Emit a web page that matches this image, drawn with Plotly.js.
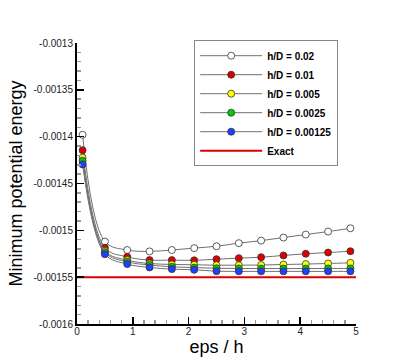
<!DOCTYPE html>
<html><head><meta charset="utf-8">
<script src="https://cdn.plot.ly/plotly-3.0.1.min.js"></script>
<style>html,body{margin:0;padding:0;background:#fff}#chart{width:407px;height:361px}</style>
</head><body><div id="chart"></div>
<script>
const epsOverH = [0.1,0.5,0.9,1.3,1.7,2.1,2.5,2.9,3.3,3.7,4.1,4.5,4.9];
const seriesNames = ['h/D = 0.02','h/D = 0.01','h/D = 0.005','h/D = 0.0025','h/D = 0.00125'];
const hD002 = [-0.001398,-0.001512,-0.001521,-0.0015225,-0.001521,-0.001519,-0.001517,-0.0015137,-0.001511,-0.0015077,-0.0015045,-0.0015013,-0.0014978];
const hD001 = [-0.0014144,-0.0015187,-0.0015283,-0.0015318,-0.0015318,-0.001532,-0.0015308,-0.0015297,-0.0015287,-0.0015268,-0.001525,-0.0015237,-0.0015223];
const hD0005 = [-0.0014225,-0.0015219,-0.0015318,-0.0015354,-0.0015364,-0.0015368,-0.0015372,-0.0015372,-0.001537,-0.0015365,-0.001536,-0.0015354,-0.0015347];
const hD00025 = [-0.0014257,-0.0015233,-0.0015336,-0.001537,-0.0015389,-0.0015398,-0.0015405,-0.0015407,-0.0015408,-0.0015408,-0.0015408,-0.0015407,-0.0015407];
const hD000125 = [-0.0014296,-0.0015255,-0.001536,-0.0015396,-0.0015414,-0.0015421,-0.0015436,-0.0015438,-0.0015438,-0.0015438,-0.0015438,-0.0015438,-0.0015438];
const exactX = [0,5];
const exactY = [-0.00155,-0.00155];
const yTickVals = [-0.0016,-0.00155,-0.0015,-0.00145,-0.0014,-0.00135,-0.0013];
const yTickText = ['-0.0016','-0.00155','-0.0015','-0.00145','-0.0014','-0.00135','-0.0013'];
const xTickVals = [0,1,2,3,4,5];
const xTickText = ['0','1','2','3','4','5'];

const allY = [hD002,hD001,hD0005,hD00025,hD000125];
const fills = ['#ffffff','#dd0000','#ffff00','#00cc00','#2040ff'];
const traces = allY.map((ys,i)=>({
  x: epsOverH, y: ys, name: seriesNames[i], type:'scatter', mode:'lines+markers',
  line:{color:'#707070', width:1, shape:'spline', smoothing:1},
  marker:{size:7, color:fills[i], line:{color:'#333', width:0.8}}
}));
traces.push({x:exactX, y:exactY, name:'Exact', type:'scatter', mode:'lines',
  line:{color:'#dd0000', width:2}});

const font = {family:'Arial, "Liberation Sans", sans-serif', color:'#000'};
const layout = {
  width:407, height:361,
  margin:{l:77, r:51, t:43, b:37},
  paper_bgcolor:'#fff', plot_bgcolor:'#fff',
  font: Object.assign({size:10}, font),
  showlegend:true,
  legend:{x:0.42, y:1.01, xanchor:'left', yanchor:'top', bgcolor:'#fff',
    bordercolor:'#888', borderwidth:1, tracegroupgap:0, itemwidth:62,
    font:{family:'Arial, "Liberation Sans", sans-serif', size:10, color:'#000', weight:'bold'}},
  xaxis:{range:[0,5], tickvals:xTickVals, ticktext:xTickText, ticks:'inside', ticklen:7, tickwidth:1.5,
    tickcolor:'#000', showline:true, linewidth:2, linecolor:'#000', showgrid:false, zeroline:false,
    tickfont:{size:10, color:'#222'}, ticklabelstandoff:-3,
    minor:{ticks:'inside', ticklen:4, tickcolor:'#999', dtick:0.2, showgrid:false},
    title:{text:'eps / h', font:{size:18, color:'#000'}, standoff:0}},
  yaxis:{range:[-0.0016,-0.0013], tickvals:yTickVals, ticktext:yTickText, ticks:'inside', ticklen:7, tickwidth:1.5,
    tickcolor:'#000', showline:true, linewidth:2, linecolor:'#000', showgrid:false, zeroline:false,
    tickfont:{size:10, color:'#222'},
    minor:{ticks:'inside', ticklen:4, tickcolor:'#999', dtick:0.00001, showgrid:false},
    title:{text:'Minimum potential energy', font:{size:18, color:'#000'}, standoff:6}}
};
Plotly.newPlot('chart', traces, layout, {staticPlot:true, displayModeBar:false});
</script></body></html>
